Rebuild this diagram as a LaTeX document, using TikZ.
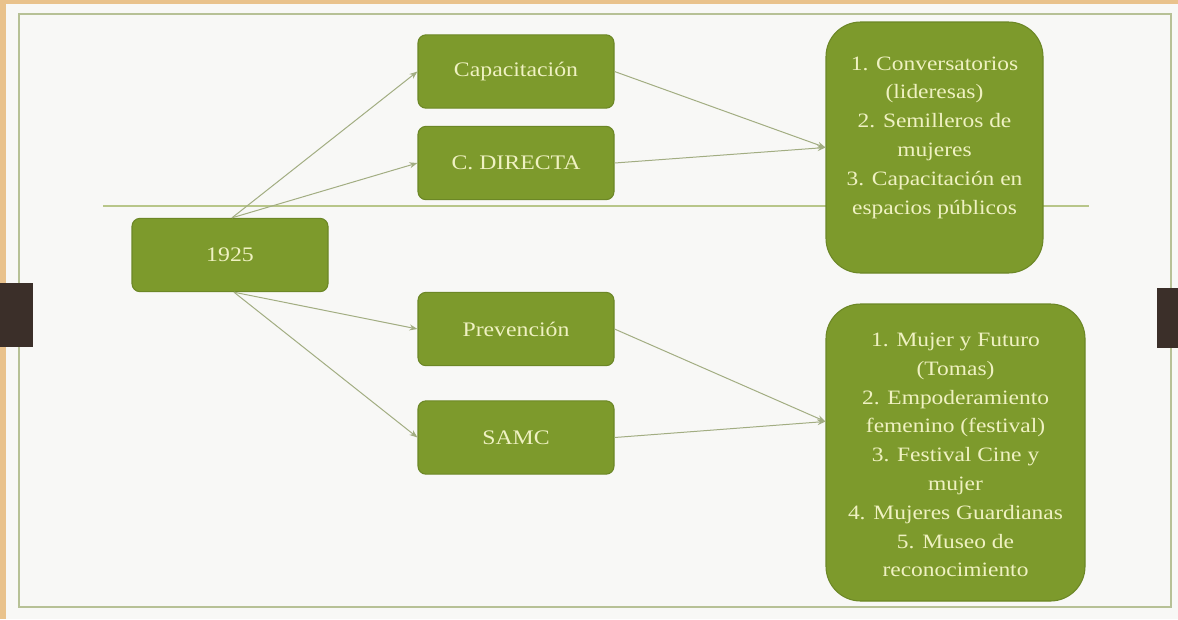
\documentclass[tikz,border=0pt]{standalone}
\usepackage{fontspec}
\setmainfont{Liberation Serif}[FakeStretch=1.15]
\usetikzlibrary{arrows.meta,calc}
\definecolor{tan}{HTML}{E9C28C}
\definecolor{paper}{HTML}{F8F8F6}
\definecolor{framegreen}{HTML}{B7C196}
\definecolor{hlinegreen}{HTML}{B8C689}
\definecolor{boxgreen}{HTML}{7D9A2C}
\definecolor{boxedge}{HTML}{6C8726}
\definecolor{boxtext}{HTML}{EFF1C2}
\definecolor{conncol}{HTML}{A2AD82}
\definecolor{tabbrown}{HTML}{3B2F29}
\begin{document}
\begin{tikzpicture}[x=0.75pt,y=-0.75pt,
  smallbox/.style={draw=boxedge,line width=0.8pt,fill=boxgreen,rounded corners=6pt,
    minimum width=147pt,minimum height=55pt,inner sep=0pt,text=boxtext,
    font=\fontsize{15.5}{18}\selectfont},
  bigbox/.style={draw=boxedge,line width=0.8pt,fill=boxgreen,rounded corners=26pt,inner sep=0pt},
  bigtext/.style={align=center,text=boxtext,inner sep=0pt,
    font=\fontsize{15.3}{21.6}\selectfont},
  conn/.style={draw=conncol,line width=0.75pt,-{Stealth[length=6pt,width=4.5pt]}},
  hline/.style={draw=hlinegreen,line width=2.1pt},
  frameline/.style={draw=framegreen,line width=1.4pt}]
\useasboundingbox (0,0) rectangle (1178,619);
% background
\fill[tan] (0,0) rectangle (1178,619);
\fill[paper] (6,4) rectangle (1178,619);
\draw[frameline] (19,14) rectangle (1171,607);
% side tabs
\fill[tabbrown] (0,283) rectangle (33,347);
\fill[tabbrown] (1157,288) rectangle (1178,348);
% horizontal rule
\coordinate (hl) at (103,206);
\coordinate (hr) at (1089,206);
\draw[hline] (hl) -- (hr);
% nodes
\node[smallbox] (n1925) at (230,255) {1925};
\node[smallbox] (cap) at (516,71.5) {Capacitación};
\node[smallbox] (cd) at (516,163) {C. DIRECTA};
\node[smallbox] (prev) at (516,329) {Prevención};
\node[smallbox] (samc) at (516,437.5) {SAMC};
\node[bigbox,minimum width=162.75pt,minimum height=188.25pt] (rt) at (934.5,147.5) {};
\node[bigtext] (rttext) at (934.5,137.5) {1. Conversatorios\\(lideresas)\\2. Semilleros de\\mujeres\\3. Capacitación en\\espacios públicos};
\node[bigbox,minimum width=194.25pt,minimum height=222.75pt] (rb) at (955.5,452.5) {};
\node[bigtext] (rbtext) at (955.5,455) {1. Mujer y Futuro\\(Tomas)\\2. Empoderamiento\\femenino (festival)\\3. Festival Cine y\\mujer\\4. Mujeres Guardianas\\5. Museo de\\reconocimiento};
% connectors
\draw[conn] ($(n1925.north)+(2,0)$) -- (cap.west);
\draw[conn] ($(n1925.north)+(2,0)$) -- (cd.west);
\draw[conn] ($(n1925.south)+(4,0)$) -- (prev.west);
\draw[conn] ($(n1925.south)+(4,0)$) -- (samc.west);
\draw[conn] (cap.east) -- (rt.west);
\draw[conn] (cd.east) -- (rt.west);
\draw[conn] (prev.east) -- ($(rb.west)+(0,-31)$);
\draw[conn] (samc.east) -- ($(rb.west)+(0,-31)$);
\end{tikzpicture}
\end{document}
